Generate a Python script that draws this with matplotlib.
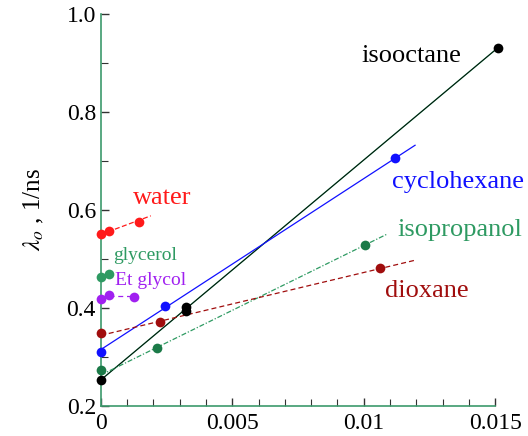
import matplotlib
matplotlib.use('Agg')
import matplotlib.pyplot as plt
from matplotlib.ticker import MultipleLocator, FixedLocator, FixedFormatter

plt.rcParams['font.family'] = ['Liberation Serif', 'DejaVu Serif']
plt.rcParams['mathtext.fontset'] = 'stix'

# points (x, lambda_o in 1/ns)
water_x = [0, 0.0003, 0.00145]
water_y = [0.551, 0.557, 0.576]
water_fit_x = [0, 0.0019]
water_fit_y = [0.550, 0.588]

glycerol_x = [0, 0.0003]
glycerol_y = [0.463, 0.470]

etglycol_x = [0, 0.0003, 0.00125]
etglycol_y = [0.418, 0.426, 0.423]
etglycol_fit_x = [0.0003, 0.00125]
etglycol_fit_y = [0.424, 0.424]

cyclohexane_x = [0, 0.00244, 0.0112]
cyclohexane_y = [0.311, 0.403, 0.706]
cyclohexane_fit_x = [0, 0.01195]
cyclohexane_fit_y = [0.315, 0.732]

isooctane_x = [0, 0.00324, 0.00324, 0.0151]
isooctane_y = [0.253, 0.402, 0.393, 0.931]
isooctane_fit_x = [0, 0.0151]
isooctane_fit_y = [0.253, 0.931]

isopropanol_x = [0, 0.00213, 0.01005]
isopropanol_y = [0.273, 0.319, 0.529]
isopropanol_fit_x = [0, 0.0109]
isopropanol_fit_y = [0.263, 0.551]

dioxane_x = [0, 0.00225, 0.0106]
dioxane_y = [0.349, 0.371, 0.482]
dioxane_fit_x = [0, 0.0120]
dioxane_fit_y = [0.344, 0.498]

xticks = [0, 0.005, 0.01, 0.015]
xtick_labels = ['0', '0.005', '0.01', '0.015']
yticks = [0.2, 0.4, 0.6, 0.8, 1.0]
ytick_labels = ['0.2', '0.4', '0.6', '0.8', '1.0']

RED = '#ff1a1a'
GREEN = '#2e9a62'
DKGREEN = '#1b7a48'
PURPLE = '#a020f0'
BLUE = '#1010ff'
DKRED = '#a00d0d'
SPINE = '#3c9a6c'

fig = plt.figure(figsize=(5.28, 4.36), dpi=100)
ax = fig.add_axes([0.191, 0.069, 0.747, 0.899])

# fit lines
ax.plot(water_fit_x, water_fit_y, color=RED, lw=0.9, ls=(0, (4, 2)))
ax.plot(etglycol_fit_x, etglycol_fit_y, color=PURPLE, lw=0.9, ls=(0, (4, 3)))
ax.plot(isooctane_fit_x, isooctane_fit_y, color=GREEN, lw=1.0)
ax.plot(isooctane_fit_x, isooctane_fit_y, color='black', lw=0.6)
ax.plot(cyclohexane_fit_x, cyclohexane_fit_y, color=BLUE, lw=0.9)
ax.plot(isopropanol_fit_x, isopropanol_fit_y, color=GREEN, lw=0.9, ls=(0, (4, 1.5, 1, 1.5)))
ax.plot(dioxane_fit_x, dioxane_fit_y, color=DKRED, lw=0.9, ls=(0, (4, 2.5)))

# points
ms = 7
for xs, ys, c in [(water_x, water_y, RED), (glycerol_x, glycerol_y, GREEN),
                  (etglycol_x, etglycol_y, PURPLE), (cyclohexane_x, cyclohexane_y, BLUE),
                  (isooctane_x, isooctane_y, 'black'), (isopropanol_x, isopropanol_y, DKGREEN),
                  (dioxane_x, dioxane_y, DKRED)]:
    ax.plot(xs, ys, 'o', color=c, ms=ms, mew=0, clip_on=False, zorder=5)

# labels
ax.text(0.0099, 0.902, 'isooctane', color='black', fontsize=19)
ax.text(0.01108, 0.645, 'cyclohexane', color=BLUE, fontsize=19)
ax.text(0.01127, 0.547, 'isopropanol', color=GREEN, fontsize=19)
ax.text(0.01080, 0.422, 'dioxane', color=DKRED, fontsize=19)
ax.text(0.00122, 0.612, 'water', color=RED, fontsize=19)
ax.text(0.00046, 0.498, 'glycerol', color=GREEN, fontsize=14)
ax.text(0.00053, 0.447, 'Et glycol', color=PURPLE, fontsize=14)

ax.set_xlim(0, 0.015)
ax.set_ylim(0.2, 1.0)
ax.xaxis.set_major_locator(FixedLocator(xticks))
ax.xaxis.set_major_formatter(FixedFormatter(xtick_labels))
ax.xaxis.set_minor_locator(MultipleLocator(0.001))
ax.yaxis.set_major_locator(FixedLocator(yticks))
ax.yaxis.set_major_formatter(FixedFormatter(ytick_labels))
ax.yaxis.set_minor_locator(MultipleLocator(0.1))

for s in ['top', 'right']:
    ax.spines[s].set_visible(False)
for s in ['left', 'bottom']:
    ax.spines[s].set_color(SPINE)
    ax.spines[s].set_linewidth(1.2)

ax.tick_params(which='both', direction='in', colors='#333333', labelcolor='black', labelsize=17)
ax.tick_params(which='major', length=6, width=1)
ax.tick_params(which='minor', length=5, width=0.8)
ax.tick_params(axis='x', pad=5)

ax.set_ylabel(r'$\lambda_o$ , 1/ns', fontsize=18, color='black')
ax.yaxis.set_label_coords(-0.14, 0.5)

fig.savefig('out.png', dpi=100)
